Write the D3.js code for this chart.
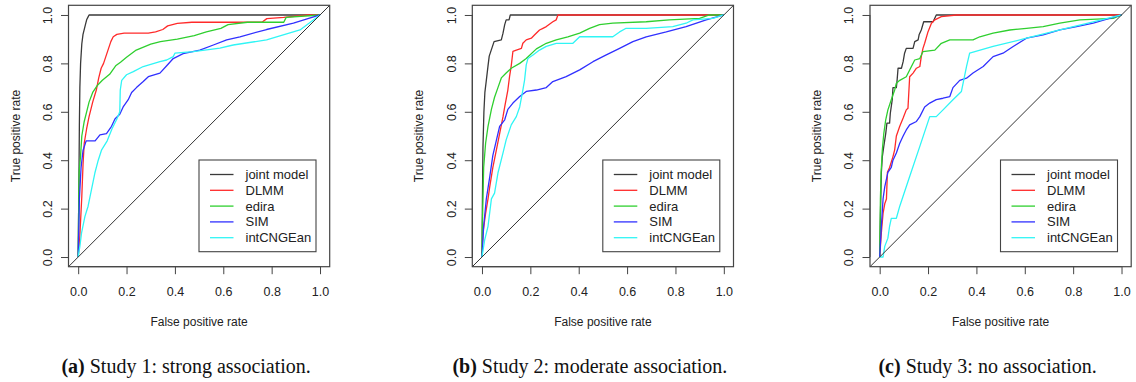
<!DOCTYPE html>
<html>
<head>
<meta charset="utf-8">
<script src="https://cdn.jsdelivr.net/npm/d3@7"></script>
<style>
  html, body { margin: 0; padding: 0; background: #fff; }
  svg { display: block; }
</style>
</head>
<body>
<svg id="chart" width="1136" height="382"></svg>
<script>
// ---------------- DATA ----------------
const seriesNames = ["joint model", "DLMM", "edira", "SIM", "intCNGEan"];
const tickValues = [0, 0.2, 0.4, 0.6, 0.8, 1.0];
const tickLabels = ["0.0", "0.2", "0.4", "0.6", "0.8", "1.0"];
const xTitle = "False positive rate";
const yTitle = "True positive rate";
const captionTags = ["(a)", "(b)", "(c)"];
const captionTexts = [" Study 1: strong association.", " Study 2: moderate association.", " Study 3: no association."];

// Study 1 ROC points [FPR, TPR]
const jointA = [[0,0],[0.003,0.3],[0.005,0.55],[0.007,0.7],[0.01,0.8],[0.015,0.88],[0.02,0.92],[0.03,0.96],[0.035,0.98],[0.04,0.99],[0.045,1],[1,1]];
const dlmmA = [[0,0],[0.005,0.05],[0.01,0.15],[0.015,0.25],[0.02,0.38],[0.025,0.47],[0.035,0.53],[0.045,0.58],[0.06,0.64],[0.075,0.69],[0.085,0.74],[0.095,0.78],[0.105,0.8],[0.115,0.83],[0.125,0.86],[0.135,0.89],[0.145,0.91],[0.16,0.92],[0.19,0.925],[0.29,0.925],[0.32,0.93],[0.35,0.94],[0.37,0.955],[0.41,0.965],[0.47,0.97],[0.76,0.97],[0.78,0.985],[0.85,0.99],[0.95,1],[1,1]];
const ediraA = [[0,0],[0.002,0.2],[0.004,0.35],[0.01,0.42],[0.015,0.5],[0.025,0.56],[0.035,0.6],[0.045,0.64],[0.06,0.68],[0.08,0.71],[0.1,0.73],[0.13,0.755],[0.155,0.79],[0.175,0.805],[0.2,0.825],[0.24,0.855],[0.3,0.88],[0.34,0.89],[0.41,0.9],[0.48,0.915],[0.53,0.93],[0.59,0.945],[0.62,0.96],[0.7,0.97],[0.85,0.97],[0.86,0.99],[1,1]];
const simA = [[0,0],[0.005,0.24],[0.012,0.37],[0.02,0.44],[0.033,0.48],[0.07,0.48],[0.09,0.505],[0.117,0.51],[0.138,0.54],[0.152,0.57],[0.172,0.59],[0.186,0.62],[0.207,0.65],[0.221,0.68],[0.241,0.7],[0.269,0.725],[0.29,0.745],[0.338,0.76],[0.366,0.79],[0.393,0.82],[0.434,0.84],[0.503,0.855],[0.559,0.876],[0.614,0.897],[0.669,0.91],[0.779,0.94],[0.89,0.966],[1,1]];
const intA = [[0,0],[0.007,0.044],[0.014,0.1],[0.028,0.168],[0.041,0.21],[0.055,0.278],[0.069,0.347],[0.083,0.4],[0.097,0.443],[0.12,0.48],[0.14,0.53],[0.16,0.57],[0.172,0.6],[0.174,0.69],[0.18,0.73],[0.2,0.753],[0.228,0.766],[0.269,0.787],[0.338,0.807],[0.366,0.814],[0.393,0.828],[0.4,0.842],[0.476,0.849],[0.586,0.863],[0.641,0.876],[0.779,0.897],[0.917,0.938],[1,1]];

// Study 2
const jointB = [[0,0],[0.002,0.25],[0.004,0.45],[0.008,0.6],[0.012,0.68],[0.018,0.73],[0.025,0.79],[0.03,0.83],[0.04,0.86],[0.05,0.89],[0.08,0.897],[0.087,0.925],[0.094,0.96],[0.1,0.98],[0.112,0.98],[0.117,1],[1,1]];
const dlmmB = [[0,0],[0.004,0.1],[0.015,0.18],[0.025,0.24],[0.032,0.29],[0.045,0.37],[0.059,0.44],[0.073,0.51],[0.087,0.58],[0.094,0.62],[0.107,0.69],[0.114,0.745],[0.121,0.79],[0.128,0.85],[0.142,0.855],[0.163,0.862],[0.169,0.883],[0.183,0.897],[0.204,0.904],[0.218,0.918],[0.238,0.938],[0.252,0.945],[0.266,0.952],[0.293,0.972],[0.307,0.98],[0.314,1],[1,1]];
const ediraB = [[0,0],[0.001,0.1],[0.004,0.24],[0.007,0.37],[0.015,0.47],[0.025,0.54],[0.039,0.61],[0.052,0.66],[0.066,0.7],[0.08,0.74],[0.1,0.76],[0.121,0.78],[0.156,0.8],[0.183,0.82],[0.225,0.86],[0.266,0.883],[0.307,0.897],[0.355,0.91],[0.404,0.925],[0.445,0.945],[0.486,0.96],[0.541,0.966],[0.679,0.972],[0.775,0.98],[0.9,0.986],[0.94,1],[1,1]];
const simB = [[0,0],[0.007,0.127],[0.018,0.24],[0.032,0.33],[0.045,0.42],[0.059,0.48],[0.073,0.54],[0.094,0.567],[0.107,0.61],[0.128,0.636],[0.156,0.663],[0.183,0.684],[0.225,0.69],[0.266,0.7],[0.293,0.725],[0.348,0.745],[0.404,0.773],[0.459,0.807],[0.514,0.835],[0.569,0.862],[0.624,0.89],[0.679,0.91],[0.762,0.93],[0.844,0.952],[0.927,0.98],[1,1]];
const intB = [[0,0],[0.011,0.07],[0.025,0.127],[0.039,0.24],[0.052,0.264],[0.066,0.347],[0.087,0.43],[0.1,0.484],[0.121,0.546],[0.142,0.58],[0.156,0.62],[0.169,0.69],[0.176,0.73],[0.183,0.794],[0.19,0.82],[0.211,0.835],[0.238,0.855],[0.266,0.87],[0.307,0.883],[0.376,0.883],[0.404,0.91],[0.541,0.91],[0.569,0.93],[0.596,0.945],[0.679,0.945],[0.789,0.952],[0.844,0.966],[0.872,0.98],[0.955,0.986],[1,1]];

// Study 3
const jointC = [[0,0],[0.003,0.17],[0.007,0.35],[0.011,0.415],[0.017,0.457],[0.025,0.51],[0.03,0.553],[0.041,0.553],[0.044,0.594],[0.052,0.65],[0.055,0.7],[0.069,0.7],[0.072,0.73],[0.076,0.78],[0.09,0.78],[0.097,0.807],[0.103,0.842],[0.11,0.862],[0.138,0.862],[0.145,0.89],[0.159,0.897],[0.163,0.918],[0.172,0.938],[0.182,0.972],[0.221,0.972],[0.234,1],[1,1]];
const dlmmC = [[0,0],[0.007,0.1],[0.014,0.18],[0.021,0.22],[0.028,0.24],[0.032,0.35],[0.041,0.37],[0.055,0.415],[0.062,0.443],[0.069,0.5],[0.083,0.54],[0.097,0.574],[0.11,0.608],[0.117,0.615],[0.124,0.745],[0.138,0.76],[0.152,0.78],[0.166,0.787],[0.172,0.828],[0.179,0.862],[0.186,0.883],[0.2,0.931],[0.214,0.966],[0.228,0.98],[0.255,0.993],[0.317,1],[1,1]];
const ediraC = [[0,0],[0.003,0.24],[0.006,0.35],[0.011,0.443],[0.017,0.51],[0.025,0.567],[0.034,0.608],[0.048,0.65],[0.062,0.69],[0.069,0.718],[0.083,0.73],[0.11,0.745],[0.124,0.773],[0.145,0.814],[0.166,0.82],[0.179,0.849],[0.228,0.855],[0.255,0.883],[0.29,0.897],[0.386,0.897],[0.414,0.91],[0.469,0.925],[0.538,0.938],[0.607,0.945],[0.676,0.952],[0.745,0.966],[0.828,0.98],[0.966,0.986],[1,1]];
const simC = [[0,0],[0.007,0.127],[0.014,0.24],[0.021,0.29],[0.034,0.35],[0.048,0.37],[0.055,0.4],[0.069,0.43],[0.083,0.47],[0.097,0.5],[0.11,0.525],[0.124,0.546],[0.152,0.56],[0.166,0.58],[0.186,0.62],[0.207,0.636],[0.234,0.65],[0.262,0.656],[0.29,0.663],[0.303,0.7],[0.331,0.73],[0.359,0.739],[0.386,0.76],[0.428,0.787],[0.469,0.828],[0.51,0.842],[0.552,0.87],[0.607,0.904],[0.676,0.918],[0.745,0.938],[0.814,0.952],[0.883,0.966],[1,1]];
const intC = [[0,0],[0.014,0],[0.021,0.044],[0.034,0.078],[0.041,0.127],[0.048,0.16],[0.069,0.16],[0.083,0.21],[0.124,0.333],[0.166,0.457],[0.207,0.58],[0.234,0.58],[0.262,0.608],[0.303,0.65],[0.338,0.684],[0.359,0.787],[0.372,0.842],[0.469,0.87],[0.607,0.904],[0.745,0.938],[0.883,0.972],[1,1]];

const studies = [
  [jointA, dlmmA, ediraA, simA, intA],
  [jointB, dlmmB, ediraB, simB, intB],
  [jointC, dlmmC, ediraC, simC, intC]
];

// ---------------- STYLE / LAYOUT ----------------
const colors = ["#3a3a3a", "#ff2a2a", "#2fcf2f", "#3030ff", "#30f5f5"];
const boxLefts = [68.5, 472.3, 870];
const boxW = 261.2;
const boxTop = 5.3, boxBottom = 266.7;
const font = "'Liberation Sans', Arial, Helvetica, sans-serif";
const serif = "'Liberation Serif', 'Times New Roman', serif";
const fs = 12.5;

const svg = d3.select("#chart");

studies.forEach((series, p) => {
  const L = boxLefts[p];
  const x = d3.scaleLinear().domain([-0.04, 1.04]).range([L, L + boxW]);
  const y = d3.scaleLinear().domain([-0.04, 1.04]).range([boxBottom, boxTop]);
  const g = svg.append("g");

  // clip
  const clipId = "clip" + p;
  svg.append("clipPath").attr("id", clipId).append("rect")
    .attr("x", L).attr("y", boxTop).attr("width", boxW).attr("height", boxBottom - boxTop);

  const line = d3.line().x(d => x(d[0])).y(d => y(d[1]));
  const plotG = g.append("g").attr("clip-path", `url(#${clipId})`);

  series.forEach((pts, i) => {
    plotG.append("path").datum(pts)
      .attr("d", line)
      .attr("fill", "none")
      .attr("stroke", colors[i])
      .attr("stroke-width", 1.3)
      .attr("stroke-linejoin", "round");
  });

  // diagonal abline(0,1)
  plotG.append("path").datum([[-0.04, -0.04], [1.04, 1.04]])
    .attr("d", line).attr("fill", "none").attr("stroke", "#333").attr("stroke-width", 1);

  // box
  g.append("rect").attr("x", L).attr("y", boxTop).attr("width", boxW).attr("height", boxBottom - boxTop)
    .attr("fill", "none").attr("stroke", "#444").attr("stroke-width", 1.2);

  // x axis
  const xa = g.append("g").attr("transform", `translate(0,${boxBottom})`)
    .call(d3.axisBottom(x).tickValues(tickValues).tickFormat((d, i) => tickLabels[i]).tickSize(7.5).tickSizeOuter(0).tickPadding(12.5));
  xa.select(".domain").attr("stroke", "#444").attr("d", `M${x(0)},0H${x(1)}`);
  xa.selectAll(".tick line").attr("stroke", "#444");
  xa.selectAll("text").attr("font-family", font).attr("font-size", fs).attr("fill", "#222");

  // y axis
  const ya = g.append("g").attr("transform", `translate(${L},0)`)
    .call(d3.axisLeft(y).tickValues(tickValues).tickFormat((d, i) => tickLabels[i]).tickSize(7.5).tickSizeOuter(0));
  ya.select(".domain").attr("stroke", "#444").attr("d", `M0,${y(0)}V${y(1)}`);
  ya.selectAll(".tick line").attr("stroke", "#444");
  ya.selectAll("text")
    .attr("font-family", font).attr("font-size", fs).attr("fill", "#222")
    .attr("x", 0).attr("y", -16.8).attr("dy", 0)
    .attr("transform", "rotate(-90)")
    .attr("text-anchor", "middle");

  // axis titles
  g.append("text").attr("x", (L + L + boxW) / 2).attr("y", 326)
    .attr("text-anchor", "middle").attr("font-family", font).attr("font-size", 12).attr("fill", "#222")
    .text(xTitle);
  g.append("text")
    .attr("transform", `translate(${L - 49},${(boxTop + boxBottom) / 2}) rotate(-90)`)
    .attr("text-anchor", "middle").attr("font-family", font).attr("font-size", 12).attr("fill", "#222")
    .text(yTitle);

  // legend
  const lg = g.append("g").attr("transform", `translate(${L + 130.5},160)`);
  lg.append("rect").attr("x", 0).attr("y", 0).attr("width", 117).attr("height", 91.7)
    .attr("fill", "#fff").attr("stroke", "#444").attr("stroke-width", 1.1);
  seriesNames.forEach((name, i) => {
    const yy = 14.5 + i * 15.8;
    lg.append("line").attr("x1", 11).attr("x2", 34.5).attr("y1", yy).attr("y2", yy)
      .attr("stroke", colors[i]).attr("stroke-width", 1.3);
    lg.append("text").attr("x", 46.5).attr("y", yy).attr("dy", "0.35em")
      .attr("font-family", font).attr("font-size", 13).attr("fill", "#222").text(name);
  });

  // caption
  const cap = g.append("text").attr("x", (L + L + boxW) / 2 - 13).attr("y", 373)
    .attr("text-anchor", "middle").attr("font-family", serif).attr("font-size", 20).attr("fill", "#111");
  cap.append("tspan").attr("font-weight", "bold").text(captionTags[p]);
  cap.append("tspan").text(captionTexts[p]);
});
</script>
</body>
</html>
